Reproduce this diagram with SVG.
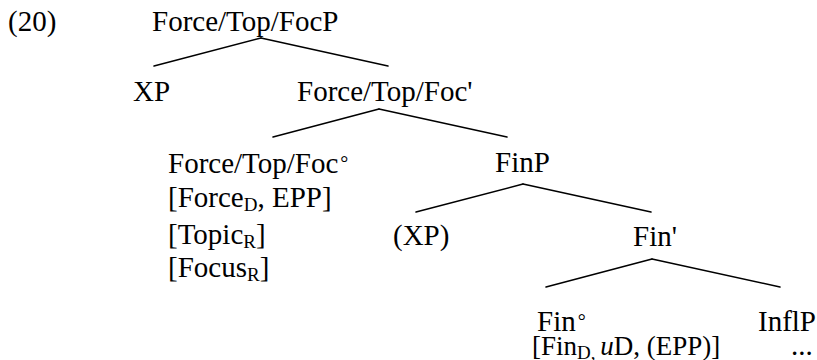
<svg xmlns="http://www.w3.org/2000/svg" width="817" height="360" viewBox="0 0 817 360">
<style>
text{font-family:"Liberation Serif","Times New Roman",serif;font-size:29px;fill:#000}
.sub{font-size:19px}
.deg{font-size:20px}
.small{font-size:27px}
line{stroke:#000;stroke-width:1.5;stroke-linecap:round}
</style>
<rect width="817" height="360" fill="#fff"/>
<text id="ex" x="8" y="31">(20)</text>
<g id="connectors">
<line x1="261" y1="38" x2="154" y2="66"/>
<line x1="261" y1="38" x2="388" y2="66"/>
<line x1="379" y1="109" x2="273" y2="137"/>
<line x1="379" y1="109" x2="507" y2="137"/>
<line x1="523" y1="184" x2="416" y2="212"/>
<line x1="523" y1="184" x2="651" y2="212"/>
<line x1="652" y1="259" x2="546" y2="287"/>
<line x1="652" y1="259" x2="780" y2="287"/>
</g>
<g id="n-root"><text x="152" y="31">Force/Top/FocP</text></g>
<g id="n-xp"><text x="133" y="101">XP</text></g>
<g id="n-bar"><text x="297" y="101">Force/Top/Foc'</text></g>
<g id="n-head">
<text x="168" y="173">Force/Top/Foc<tspan class="deg" dx="2" dy="-3">°</tspan></text>
<text x="168" y="207">[Force<tspan class="sub" dy="4">D</tspan><tspan dy="-4">, EPP]</tspan></text>
<text x="168" y="244">[Topic<tspan class="sub" dy="4">R</tspan><tspan dy="-4">]</tspan></text>
<text x="168" y="277">[Focus<tspan class="sub" dy="4">R</tspan><tspan dy="-4">]</tspan></text>
</g>
<g id="n-finp"><text x="495" y="172">FinP</text></g>
<g id="n-xp2"><text x="393" y="245">(XP)</text></g>
<g id="n-finbar"><text x="633" y="246">Fin'</text></g>
<g id="n-fin">
<text x="537" y="331">Fin<tspan class="deg" dx="2" dy="-3">°</tspan></text>
<text class="small" x="532" y="355">[Fin<tspan class="sub" dy="4">D, </tspan><tspan dy="-4" font-style="italic">u</tspan>D, (EPP)]</text>
</g>
<g id="n-infl">
<text x="758" y="331">InflP</text>
<text x="791" y="355">...</text>
</g>
</svg>
